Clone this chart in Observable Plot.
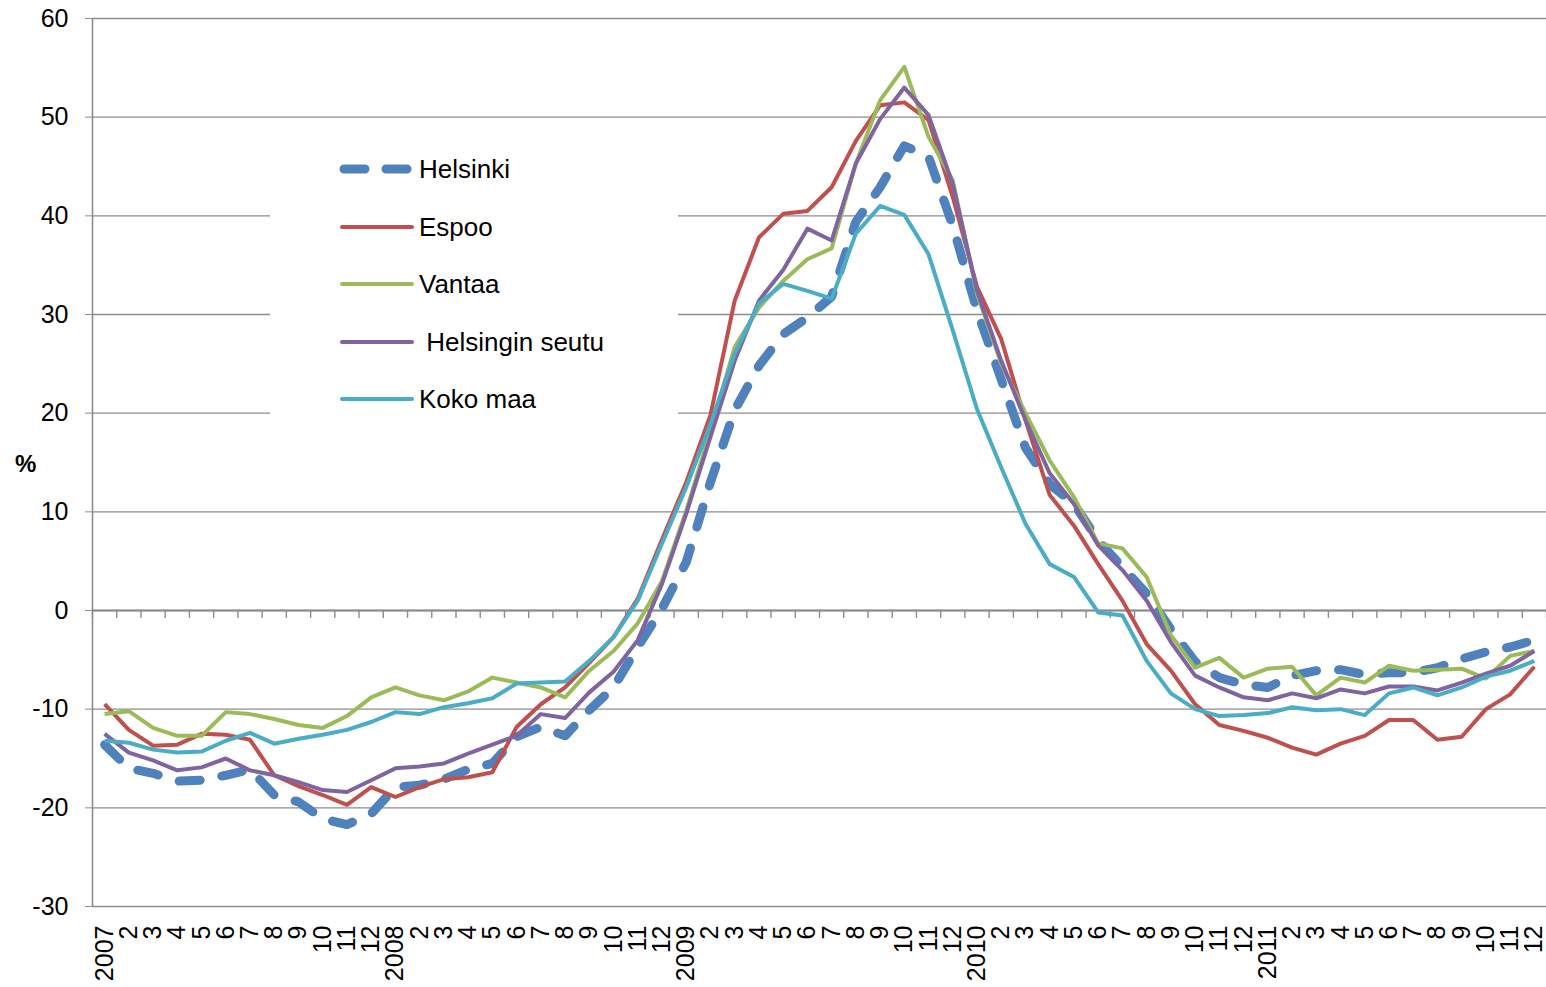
<!DOCTYPE html>
<html><head><meta charset="utf-8">
<script src="https://cdn.jsdelivr.net/npm/d3@7"></script>
<script src="https://cdn.jsdelivr.net/npm/@observablehq/plot@0.6"></script>
<style>
body{margin:0;background:#fff;font-family:"Liberation Sans",Arial,sans-serif;}
#wrap{position:relative;width:1546px;height:987px;overflow:hidden;}
#legend{position:absolute;left:270px;top:128px;width:408px;height:312px;background:#fff;}
.item{position:absolute;left:66px;height:40px;display:flex;align-items:center;font-size:26px;white-space:pre;color:#000;}
.item svg{margin-right:3px;}
#pct{position:absolute;left:15px;top:450px;font-size:24px;font-weight:bold;}
</style></head><body><div id="wrap"></div>
<script>
const years = ["2007","2008","2009","2010","2011"];
const months = ["1","2","3","4","5","6","7","8","9","10","11","12"];
const series = ["Helsinki","Espoo","Vantaa","Helsingin seutu","Koko maa"];
const legendLabels = ["Helsinki","Espoo","Vantaa"," Helsingin seutu","Koko maa"];
const colors = ["#4F81BD","#C0504D","#9BBB59","#8064A2","#4BACC6"];
const yTicks = [-30,-20,-10,0,10,20,30,40,50,60];

const helsinki = [-13.6,-16.0,-16.5,-17.3,-17.2,-16.7,-16.1,-18.7,-19.4,-21.1,-21.7,-20.6,
-17.9,-17.7,-17.1,-16.1,-15.5,-12.8,-11.8,-12.7,-10.1,-7.8,-3.7,0.2,
4.9,13.0,20.3,24.8,28.0,29.7,31.8,39.4,42.9,47.1,46.0,39.0,
30.4,23.4,16.5,12.8,10.8,7.1,4.4,1.7,-1.9,-5.2,-6.8,-7.5,
-7.8,-6.6,-6.1,-6.0,-6.5,-6.3,-6.3,-5.8,-4.9,-4.2,-3.7,-3.0];
const espoo = [-9.5,-12.1,-13.7,-13.6,-12.5,-12.6,-13.1,-16.7,-17.8,-18.7,-19.7,-17.9,
-18.9,-17.9,-17.1,-16.9,-16.4,-11.8,-9.5,-7.8,-5.3,-2.7,1.2,7.2,
13.0,19.8,31.4,37.8,40.2,40.5,42.9,47.6,51.2,51.5,49.7,41.9,
32.8,27.5,19.3,11.7,8.6,4.7,1.0,-3.4,-6.1,-9.5,-11.6,-12.2,
-12.9,-13.9,-14.6,-13.5,-12.7,-11.1,-11.1,-13.1,-12.8,-10.0,-8.5,-5.7];
const vantaa = [-10.5,-10.2,-11.9,-12.7,-12.7,-10.3,-10.5,-11.0,-11.6,-11.9,-10.7,-8.8,
-7.8,-8.6,-9.1,-8.2,-6.8,-7.3,-7.8,-8.8,-6.1,-4.1,-1.3,3.0,
10.1,18.2,26.7,30.7,33.4,35.6,36.7,45.3,51.7,55.1,48.0,43.6,
32.1,25.0,20.0,15.2,11.5,6.8,6.3,3.4,-2.5,-5.8,-4.8,-6.8,
-5.9,-5.7,-8.6,-6.8,-7.3,-5.6,-6.1,-6.0,-5.9,-6.9,-4.6,-4.1];
const seutu = [-12.5,-14.4,-15.2,-16.2,-15.9,-15.0,-16.2,-16.7,-17.4,-18.2,-18.4,-17.2,
-16.0,-15.8,-15.5,-14.5,-13.6,-12.7,-10.5,-10.9,-8.3,-6.2,-3.0,2.7,
9.8,17.6,25.3,31.4,34.5,38.7,37.5,45.3,49.8,53.0,50.2,43.2,
32.4,25.3,19.3,13.9,10.8,6.6,4.1,1.0,-3.2,-6.6,-7.8,-8.8,
-9.1,-8.4,-8.9,-8.0,-8.4,-7.7,-7.7,-8.1,-7.3,-6.4,-5.6,-4.1];
const kokoMaa = [-13.2,-13.4,-14.1,-14.4,-14.3,-13.2,-12.4,-13.5,-13.0,-12.6,-12.1,-11.3,
-10.3,-10.5,-9.8,-9.4,-8.9,-7.4,-7.3,-7.2,-5.1,-2.7,1.0,6.8,
12.5,18.9,26.0,31.1,33.1,32.4,31.6,38.2,41.0,40.1,36.1,28.4,
20.4,14.5,8.8,4.7,3.4,-0.2,-0.5,-5.1,-8.4,-10.0,-10.7,-10.6,
-10.4,-9.8,-10.1,-10.0,-10.6,-8.4,-7.8,-8.6,-7.8,-6.7,-6.1,-5.1];

const values = [helsinki, espoo, vantaa, seutu, kokoMaa];
const labels = years.flatMap(y => months.map(m => m === "1" ? y : m));
const idx = labels.map((_, i) => i);
const bounds = d3.range(0, labels.length + 1).map(i => i - 0.5);
const grid = "#8c8c8c";

const lineMarks = series.map((s, k) => {
  const data = values[k].map((v, i) => ({i, v}));
  const dashed = k === 0;
  return Plot.lineY(data, {
    x: "i", y: "v", stroke: colors[k],
    strokeWidth: dashed ? 9 : 4,
    strokeDasharray: dashed ? "21,22" : null,
    strokeLinecap: dashed ? "round" : "butt",
    strokeLinejoin: "round"
  });
});

const chart = Plot.plot({
  width: 1546, height: 987,
  marginLeft: 92, marginRight: 0, marginTop: 18, marginBottom: 81,
  x: {domain: [-0.5, labels.length - 0.5], axis: null},
  y: {domain: [-30, 60], axis: null},
  style: {fontFamily: "'Liberation Sans', Arial, sans-serif", fontSize: "25px", color: "#000", background: "#fff", overflow: "visible"},
  marks: [
    Plot.ruleY(yTicks, {stroke: grid, strokeWidth: 1.4}),
    Plot.ruleX([-0.5], {y1: -30, y2: 60, stroke: grid, strokeWidth: 1.6}),
    Plot.ruleY([0], {stroke: grid, strokeWidth: 1.8}),
    Plot.ruleX(bounds, {y1: 0, y2: -0.8, stroke: grid, strokeWidth: 1.4}),
    Plot.axisY({ticks: yTicks, tickSize: 7, tickPadding: 17, stroke: grid, fill: "#000", label: null, tickFormat: d => String(d), fontSize: 25}),
    Plot.text(idx, {x: d => d, y: -30, text: d => labels[d], rotate: -90, textAnchor: "end", dy: 19, fontSize: 25, fill: "#000"}),
    ...lineMarks
  ]
});

const wrap = document.getElementById("wrap");
wrap.appendChild(chart);

const legend = document.createElement("div");
legend.id = "legend";
const centers = [41, 99, 156, 214, 271];
series.forEach((s, k) => {
  const it = document.createElement("div");
  it.className = "item";
  it.style.top = (centers[k] - 20) + "px";
  const dashed = k === 0;
  const sw = dashed ? 9 : 4;
  const dash = dashed ? 'stroke-dasharray="21,21" stroke-linecap="round"' : 'stroke-linecap="round"';
  const x1 = dashed ? 8 : 6, x2 = dashed ? 72 : 76;
  it.innerHTML = `<svg width="80" height="20"><line x1="${x1}" y1="10" x2="${x2}" y2="10" stroke="${colors[k]}" stroke-width="${sw}" ${dash}/></svg><span>${legendLabels[k]}</span>`;
  legend.appendChild(it);
});
wrap.appendChild(legend);

const pct = document.createElement("div");
pct.id = "pct";
pct.textContent = "%";
wrap.appendChild(pct);
</script>
</body></html>
